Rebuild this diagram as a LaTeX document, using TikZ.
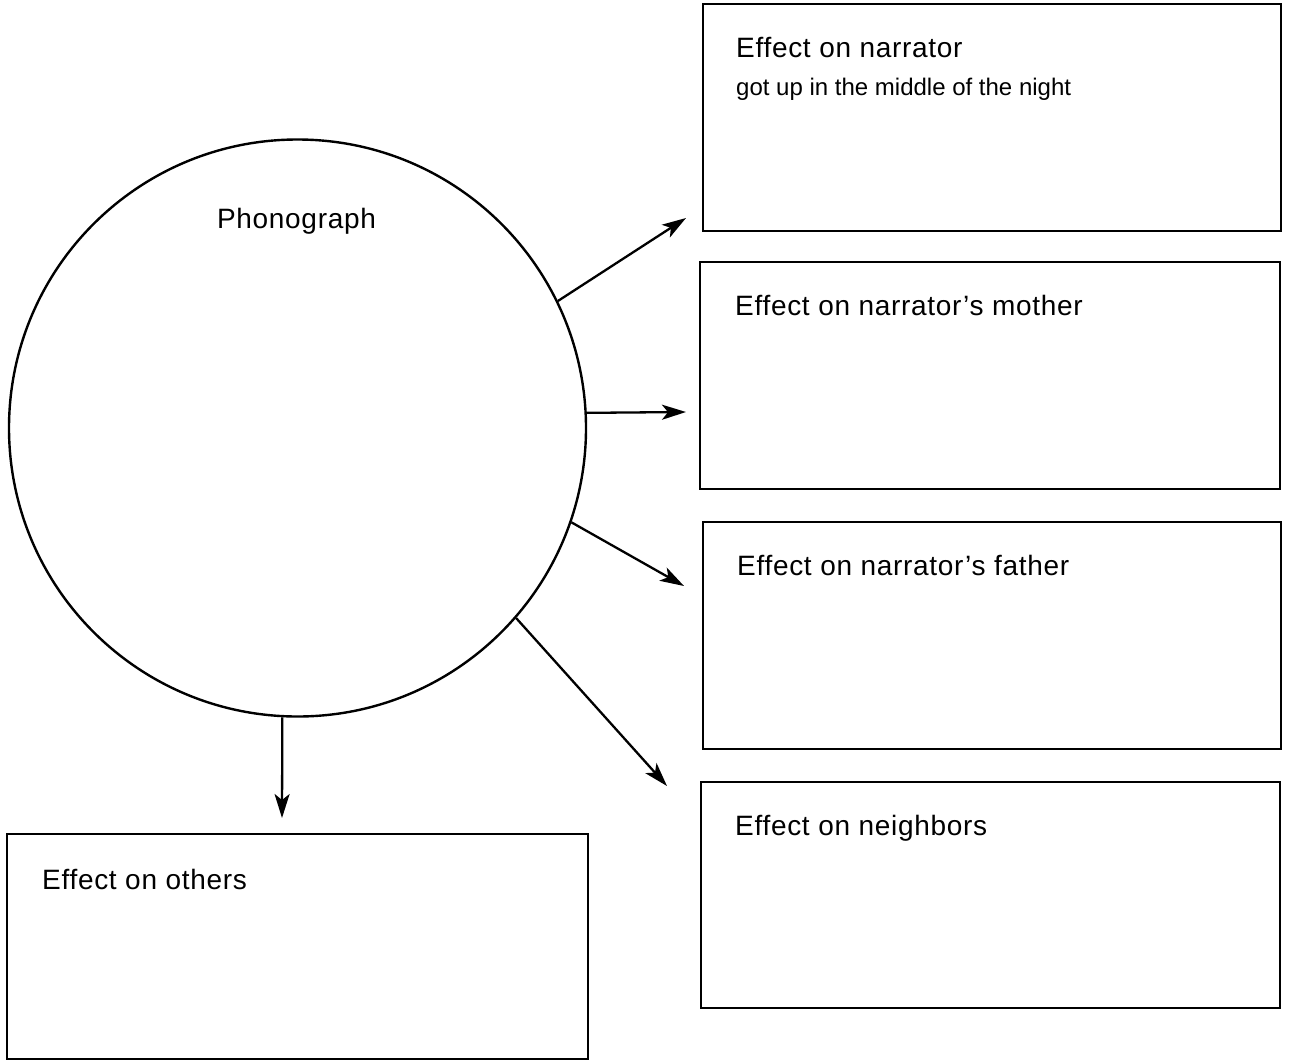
\documentclass[tikz,border=0pt]{standalone}
\usepackage{fontspec}
\setmainfont{Liberation Sans}[LetterSpace=2.5]
\newfontfamily\handfont{Liberation Sans}
\usetikzlibrary{arrows.meta}
\begin{document}
\begin{tikzpicture}[x=1pt,y=-1pt,
  box/.style={draw, line width=2.8pt, rectangle, inner sep=0pt, outer sep=0pt, anchor=north west},
  lbl/.style={inner sep=0pt, anchor=base west, font=\fontsize{28}{34}\selectfont},
  hand/.style={inner sep=0pt, anchor=base west, font=\handfont\fontsize{24}{28}\selectfont},
  arr/.style={line width=2.3pt, -{Stealth[length=24pt,width=15pt,inset=6pt]}}]
\useasboundingbox (0,0) rectangle (1290,1061);
% phonograph circle
\node[draw, circle, line width=2.4pt, minimum size=577pt, inner sep=0pt] (ph) at (297.5,428) {};
\node[lbl, anchor=base] (phl) at (296.5,228) {Phonograph};
% boxes
\node[box, minimum width=578pt, minimum height=227pt] (b1) at (703,4) {};
\node[box, minimum width=580pt, minimum height=227pt] (b2) at (700,262) {};
\node[box, minimum width=578pt, minimum height=227pt] (b3) at (703,522) {};
\node[box, minimum width=579pt, minimum height=226pt] (b4) at (701,782) {};
\node[box, minimum width=581pt, minimum height=225pt] (b5) at (7,834) {};
% labels
\node[lbl] (t1) at (736,57.5) {Effect on narrator};
\node[hand] (h1) at (736,95) {got up in the middle of the night};
\node[lbl] (t2) at (735,315.5) {Effect on narrator’s mother};
\node[lbl] (t3) at (737,575.5) {Effect on narrator’s father};
\node[lbl] (t4) at (735,835.5) {Effect on neighbors};
\node[lbl] (t5) at (42,889.5) {Effect on others};
% arrow ends
\coordinate (e1) at (686,218);
\coordinate (e2) at (686,412);
\coordinate (e3) at (684,586);
\coordinate (e4) at (667,786);
\coordinate (e5) at (282,818);
\draw[arr] (ph.26.1) -- (e1);
\draw[arr] (ph.3.2) -- (e2);
\draw[arr] (ph.-19.8) -- (e3);
\draw[arr] (ph.-41) -- (e4);
\draw[arr] (ph.267.3) -- (e5);
\end{tikzpicture}
\end{document}
